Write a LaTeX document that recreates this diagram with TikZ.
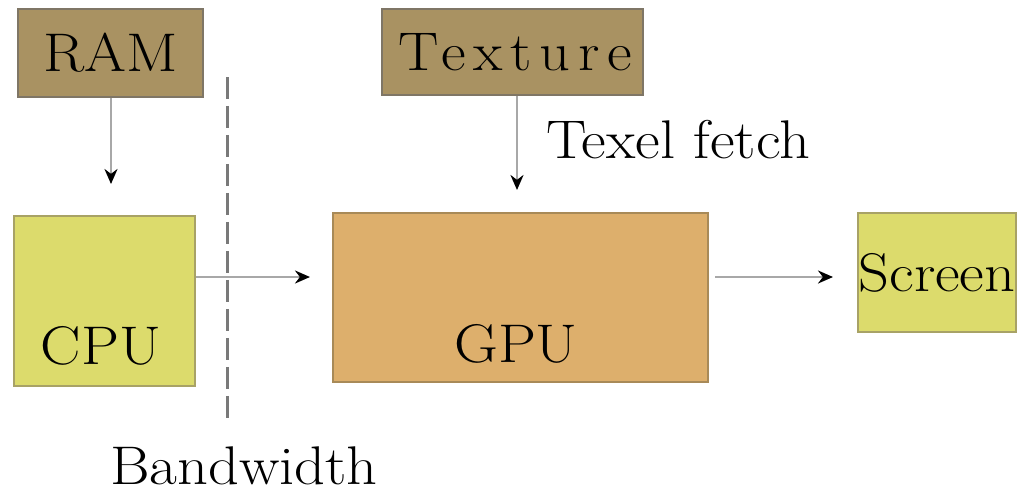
\documentclass[tikz,border=0pt]{standalone}
\usepackage{fontspec}
\setmainfont{Latin Modern Roman}[FakeStretch=1.11]
\newfontfamily\spacedfont{Latin Modern Roman}[FakeStretch=1.11,LetterSpace=14]
\usetikzlibrary{arrows.meta}
\definecolor{memfill}{HTML}{A99262}
\definecolor{memdraw}{HTML}{7F7666}
\definecolor{procfill}{HTML}{DCDB6C}
\definecolor{procdraw}{HTML}{A8A266}
\definecolor{gpufill}{HTML}{DDAF6C}
\definecolor{gpudraw}{HTML}{A88A58}
\definecolor{linkgray}{HTML}{A8A8A8}
\begin{document}
\begin{tikzpicture}[x=0.02cm,y=-0.02cm,
  every node/.style={font=\fontsize{31}{37}\selectfont},
  membox/.style={draw=memdraw,fill=memfill,line width=0.05cm,inner sep=0},
  procbox/.style={draw=procdraw,fill=procfill,line width=0.05cm,inner sep=0},
  gpubox/.style={draw=gpudraw,fill=gpufill,line width=0.05cm,inner sep=0},
  link/.style={draw=linkgray,line width=0.05cm,
    -{Stealth[length=0.3cm,width=0.26cm,black]}},
  sepline/.style={draw=gray!95!black,line width=0.06cm,dash pattern=on 0.44cm off 0.14cm}]
\useasboundingbox (0,0) rectangle (1017,494);
% memory sources
\node[membox,minimum width=3.7cm,minimum height=1.76cm] (ram) at (110.5,53) {RAM};
\node[membox,minimum width=5.22cm,minimum height=1.72cm,
  font=\fontsize{31}{37}\spacedfont] (tex) at (512.5,52) {\hspace{0.1cm}Texture};
% processors and output
\node[procbox,minimum width=3.62cm,minimum height=3.4cm] (cpu) at (104.5,301) {};
\node at (101,346) (cpul) {CPU};
\node[gpubox,minimum width=7.5cm,minimum height=3.38cm] (gpu) at (520.5,297.5) {};
\node at (516,344) (gpul) {GPU};
\node[procbox,minimum width=3.16cm,minimum height=2.38cm] (scr) at (937,272.5) {Screen};
% bandwidth divider
\coordinate (dtop) at (227,77);
\coordinate (dbot) at (227,422);
\draw[sepline] (dtop) -- (dbot);
\node at (244,466) (bw) {Bandwidth};
% data paths
\coordinate (ramend) at (111,184);
\coordinate (texend) at (517,190);
\coordinate (cpuend) at (310,277);
\coordinate (gpustart) at (715,277);
\coordinate (gpuend) at (833,277);
\draw[link] (ram.south -| ramend) -- (ramend);
\draw[link] (tex.south -| texend) -- (texend);
\draw[link] (cpu.east |- cpuend) -- (cpuend);
\draw[link] (gpustart) -- (gpuend);
\node[anchor=west] at (540,140) (fetch) {Texel fetch};
\end{tikzpicture}
\end{document}
